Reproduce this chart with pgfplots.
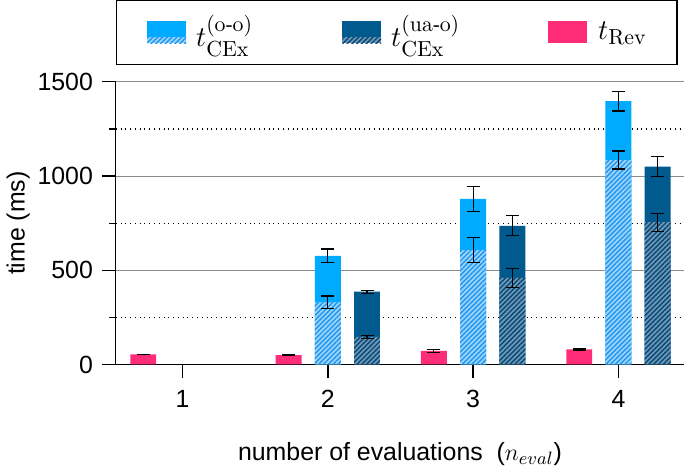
\documentclass[border=0pt]{standalone}
\usepackage{amsmath}
\usepackage{pgfplots}
\pgfplotsset{compat=1.18}
\usepackage{pgfplotstable}
\usetikzlibrary{patterns.meta}
\usepackage[no-math]{fontspec}
\setmainfont{Liberation Sans}
\newfontfamily\serifhy{Liberation Serif}

\definecolor{lblue}{RGB}{0,170,255}
\definecolor{lbluebg}{RGB}{155,212,250}
\definecolor{lbluestripe}{RGB}{30,150,240}
\definecolor{dblue}{RGB}{0,90,142}
\definecolor{dbluebg}{RGB}{105,152,188}
\definecolor{dbluestripe}{RGB}{10,70,110}
\definecolor{rpink}{RGB}{255,45,120}

% x positions already include the offset of each bar within its group
\pgfplotstableread{
x y e
0.73 53 2
1.73 50 3
2.73 72 8
3.73 80 3
}\revtable
\pgfplotstableread{
x y e
2 577 36
3 879 67
4 1397 52
}\oototal
\pgfplotstableread{
x y e
2 330 33
3 607 66
4 1085 48
}\oohatch
\pgfplotstableread{
x y e
2.27 386 8
3.27 736 53
4.27 1050 53
}\uatotal
\pgfplotstableread{
x y e
2.27 146 8
3.27 459 50
4.27 755 48
}\uahatch

\begin{document}
\begin{tikzpicture}
\begin{axis}[
  scale only axis,
  width=285.5pt, height=142pt,
  xmin=0.541, xmax=4.452,
  ymin=0, ymax=1500,
  axis x line*=bottom, axis y line*=left,
  axis line style={-},
  x axis line style={line width=0.9pt},
  y axis line style={line width=0.6pt},
  xtick={1,2,3,4},
  ytick={0,500,1000,1500},
  minor ytick={250,750,1250},
  tick align=outside,
  x tick style={line width=0.9pt, black},
  y tick style={line width=0.6pt, black},
  major tick length=7pt,
  minor tick length=3.5pt,
  ymajorgrids, yminorgrids,
  major grid style={gray!90, line width=0.5pt},
  minor grid style={black, dotted, line width=0.6pt},
  scaled y ticks=false,
  /pgf/number format/1000 sep={},
  /pgf/number format/assume math mode=true,
  tick label style={font=\fontsize{12.5}{14}\selectfont},
  label style={font=\fontsize{12.5}{14}\selectfont},
  xticklabel style={yshift=-2.5pt},
  yticklabel style={xshift=-1pt},
  xlabel={number of evaluations~~($n_{eval}$)},
  xlabel style={yshift=-10.5pt},
  ylabel={time (ms)},
  ylabel shift=-3pt,
  legend columns=3,
  legend cell align=left,
  legend style={
    at={(0,1)}, anchor=south west, yshift=8.5pt,
    draw=black, line width=0.7pt,
    inner xsep=15.5pt, inner ysep=5.25pt,
    font=\fontsize{15}{18}\selectfont,
    nodes={inner xsep=0pt},
    /tikz/column 1/.style={column sep=5pt},
    /tikz/column 2/.style={text width=73.5pt},
    /tikz/column 3/.style={column sep=5pt},
    /tikz/column 4/.style={text width=79pt},
    /tikz/column 5/.style={column sep=5.5pt},
    /tikz/column 6/.style={text width=24pt},
  },
  error bars/y dir=both,
  error bars/y explicit,
  error bars/error mark options={rotate=90, mark size=3.25pt, line width=0.6pt, black},
  error bars/error bar style={line width=0.6pt, black},
]
% o-o total
\addplot[ybar, bar width=13pt, bar shift=0pt, fill=lblue, draw=none,
  legend image code/.code={
    \fill[lblue] (0pt,-5.5pt) rectangle (19.5pt,6pt);
    \fill[lbluebg, postaction={pattern={Lines[angle=45,distance=1.7pt,line width=0.7pt]}, pattern color=lbluestripe}] (0pt,-5.5pt) rectangle (19.5pt,-2.5pt);
  }]
  table[x=x, y=y, y error=e] {\oototal};
\addlegendentry{$t^{(\mathrm{o}\text{\serifhy -}\mathrm{o})}_{\mathrm{CEx}}$}
\addplot[ybar, bar width=13pt, bar shift=0pt, fill=lbluebg, draw=none, forget plot,
  postaction={pattern={Lines[angle=45,distance=1.7pt,line width=0.7pt]}, pattern color=lbluestripe}]
  table[x=x, y=y, y error=e] {\oohatch};
% ua-o total
\addplot[ybar, bar width=13pt, bar shift=0pt, fill=dblue, draw=none,
  legend image code/.code={
    \fill[dblue] (0pt,-5.5pt) rectangle (19.5pt,6pt);
    \fill[dbluebg, postaction={pattern={Lines[angle=45,distance=1.7pt,line width=0.7pt]}, pattern color=dbluestripe}] (0pt,-5.5pt) rectangle (19.5pt,-2.5pt);
  }]
  table[x=x, y=y, y error=e] {\uatotal};
\addlegendentry{$t^{(\mathrm{ua}\text{\serifhy -}\mathrm{o})}_{\mathrm{CEx}}$}
\addplot[ybar, bar width=13pt, bar shift=0pt, fill=dbluebg, draw=none, forget plot,
  postaction={pattern={Lines[angle=45,distance=1.7pt,line width=0.7pt]}, pattern color=dbluestripe}]
  table[x=x, y=y, y error=e] {\uahatch};
% rev
\addplot[ybar, bar width=13pt, bar shift=0pt, fill=rpink, draw=none,
  legend image code/.code={
    \fill[rpink] (0pt,-5.5pt) rectangle (19.5pt,6pt);
  }]
  table[x=x, y=y, y error=e] {\revtable};
\addlegendentry{$t_{\mathrm{Rev}}$}
\end{axis}
\end{tikzpicture}
\end{document}
